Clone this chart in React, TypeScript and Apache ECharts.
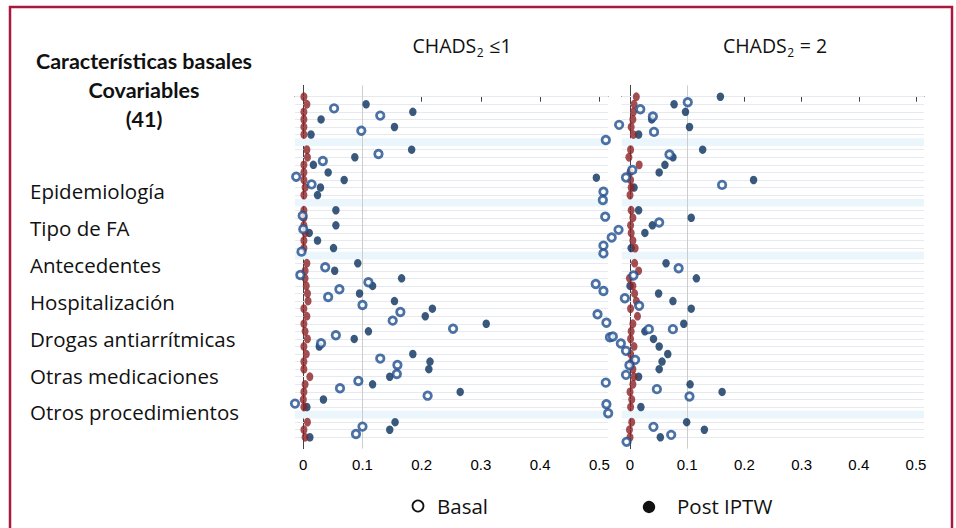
import React, { useEffect, useRef } from 'react';
import * as echarts from 'echarts';

// Row slots (top to bottom) that hold a covariate; the gaps are shaded bands
const ROW_SLOTS = [0, 1, 2, 3, 4, 5, 7, 8, 9, 10, 11, 12, 13, 15, 16, 17, 18, 19, 20,
  22, 23, 24, 25, 26, 27, 28, 29, 30, 31, 32, 33, 34, 35, 36, 37, 38, 39, 40, 41, 43, 44, 45];
const BAND_SLOTS = [6, 14, 21, 42];
const X_TICKS = [0, 0.1, 0.2, 0.3, 0.4, 0.5];

const GROUP_LABELS = ['Epidemiología', 'Tipo de FA', 'Antecedentes', 'Hospitalización',
  'Drogas antiarrítmicas', 'Otras medicaciones', 'Otros procedimientos'];
const HEADER_LINES = ['Características basales', 'Covariables', '(41)'];
const PANEL_TITLES = [['CHADS', '2', ' ≤1'], ['CHADS', '2', ' = 2']];
const LEGEND_ITEMS = ['Basal', 'Post IPTW'];

// Left panel (CHADS2 <= 1)
const LEFT_RED = [0.001, 0.006, 0.001, 0.001, 0.001, 0.001,
  0.006, 0.007, 0.001, 0.001, 0.001, 0.003, 0.001,
  0.001, 0.001, 0.001, 0.003, 0.001, 0.001,
  0.006, 0.003, 0.003, 0.005, 0.007, 0.008, 0.001, 0.006, 0.001, 0.003,
  0.007, 0.001, 0.005, 0.001, 0.001, 0.011, 0.003, 0.001, 0.000, 0.001,
  0.007, 0.001, 0.003];
const LEFT_NAVY = [[0.106, 1], [0.185, 2], [0.030, 3], [0.154, 4], [0.013, 5], [0.183, 7], [0.087, 8],
  [0.017, 9], [0.042, 10], [0.495, 10.7], [0.069, 11], [0.029, 12], [0.024, 13], [0.055, 15], [0.055, 17],
  [0.010, 18], [0.024, 19], [0.051, 20], [0.092, 22], [0.053, 23], [0.166, 24], [0.117, 25], [0.095, 26],
  [0.154, 27], [0.218, 28], [0.206, 29], [0.309, 30], [0.110, 31], [0.086, 32], [0.027, 33], [0.185, 34],
  [0.214, 35], [0.212, 36], [0.146, 37], [0.117, 38], [0.265, 39], [0.034, 40], [0.006, 41], [0.155, 43],
  [0.146, 44], [0.011, 45]];
const LEFT_OPEN = [[0.052, 1.54], [0.130, 2.5], [0.098, 4.49], [0.511, 5.72], [0.127, 7.57], [0.033, 8.5],
  [-0.012, 10.57], [0.014, 11.58], [0.507, 12.55], [0.506, 13.65], [-0.001, 15.72], [0.510, 15.85],
  [0.000, 17.5], [0.507, 19.68], [-0.003, 20.47], [0.507, 20.7], [0.037, 22.54], [-0.005, 23.55],
  [0.110, 24.52], [0.494, 24.74], [0.061, 25.44], [0.507, 25.67], [0.042, 26.46], [0.100, 27.52],
  [0.164, 28.44], [0.497, 28.75], [0.151, 29.59], [0.512, 29.86], [0.253, 30.65], [0.055, 31.52],
  [0.518, 31.78], [0.030, 32.58], [0.130, 34.6], [0.159, 35.44], [0.158, 36.63], [0.093, 37.56],
  [0.511, 37.78], [0.062, 38.52], [0.210, 39.5], [-0.014, 40.55], [0.512, 40.63], [0.515, 41.82],
  [0.100, 43.59], [0.089, 44.56]];

// Right panel (CHADS2 = 2)
const RIGHT_RED = [0.011, 0.007, 0.006, 0.005, 0.002, 0.006,
  0.001, -0.002, 0.016, 0.000, 0.001, 0.002, 0.000,
  0.002, 0.005, 0.001, 0.002, 0.005, 0.009,
  0.008, 0.015, -0.001, 0.005, 0.008, 0.011, 0.001, 0.013, 0.005, 0.002,
  0.001, 0.007, 0.001, 0.003, 0.005, 0.007, 0.005, 0.000, 0.003, 0.001,
  0.003, -0.001, 0.000];
const RIGHT_NAVY = [[0.158, 0], [0.077, 1], [0.097, 2], [0.038, 3], [0.104, 4], [0.015, 5], [0.127, 7],
  [0.075, 8], [0.061, 9], [0.051, 10], [0.216, 11], [0.007, 12], [0.015, 15], [0.107, 16], [0.039, 17],
  [0.026, 18], [0.002, 20], [0.063, 22], [0.116, 24], [0.000, 25], [0.050, 26], [0.075, 27], [0.107, 28],
  [0.094, 30], [0.026, 31], [0.041, 32], [0.051, 33], [0.066, 34], [0.056, 35], [0.051, 36], [0.015, 37],
  [0.105, 38], [0.161, 39], [0.019, 41], [0.099, 43], [0.130, 44], [0.053, 45]];
const RIGHT_OPEN = [[0.101, 0.73], [0.018, 1.65], [0.040, 2.62], [-0.019, 3.72], [0.042, 4.65],
  [0.069, 7.64], [0.004, 9.67], [-0.007, 10.68], [0.161, 11.65], [0.051, 16.62], [-0.020, 17.59],
  [-0.032, 18.6], [0.085, 22.66], [0.006, 23.62], [-0.009, 26.62], [0.016, 27.63], [0.033, 30.71],
  [0.075, 30.71], [-0.030, 31.68], [-0.016, 32.6], [-0.007, 33.58], [0.009, 34.77], [-0.001, 35.47],
  [-0.007, 36.75], [0.047, 38.64], [0.104, 39.6], [0.041, 43.62], [0.072, 44.68], [-0.006, 45.6]];

const RED = '#8c2226';
const NAVY = '#0a2f5c';
const OPEN = '#1f4f8e';
const TEXT_FONT = '"Open Sans", "Noto Sans", sans-serif';

function measure(text: string, font: string): number {
  const c = document.createElement('canvas').getContext('2d');
  if (!c) return text.length * 8;
  c.font = font;
  return c.measureText(text).width;
}

export default function App() {
  const ref = useRef<HTMLDivElement>(null);
  useEffect(() => {
    if (!ref.current) return;
    const chart = echarts.init(ref.current, null, { renderer: 'svg' });

    const top = 85.35;
    const height = 363.3;
    const panels = [
      { left: 295, width: 313, min: -0.014, max: 0.5147, red: LEFT_RED, navy: LEFT_NAVY, open: LEFT_OPEN },
      { left: 621.7, width: 302.3, min: -0.0145, max: 0.514, red: RIGHT_RED, navy: RIGHT_NAVY, open: RIGHT_OPEN },
    ];

    const grid = panels.map((p) => ({ left: p.left, top, width: p.width, height, containLabel: false }));
    const xAxis = panels.map((p, i) => ({
      type: 'value', gridIndex: i, min: p.min, max: p.max,
      axisLine: { show: true, lineStyle: { color: '#444', width: 1 } },
      axisTick: { show: true, customValues: X_TICKS, length: 5, lineStyle: { color: '#444' } },
      axisLabel: {
        show: true, customValues: X_TICKS, color: '#000', fontSize: 15, margin: 8,
        fontFamily: '"Liberation Sans Narrow", "Liberation Sans", Arial, sans-serif',
        formatter: (v: number) => (Math.abs(v) < 1e-9 ? '0' : String(Math.round(v * 10) / 10)),
      },
      splitLine: { show: false },
    }));
    const yAxis = panels.map((_, i) => ({
      type: 'value', gridIndex: i, inverse: true, min: -1.5, max: 46.5,
      axisLine: { show: true, lineStyle: { color: '#444', width: 1 } },
      axisTick: { show: true, customValues: ROW_SLOTS, length: 3, lineStyle: { color: '#333' } },
      axisLabel: { show: false },
      splitLine: { show: false },
    }));

    const series: any[] = [];
    panels.forEach((p, i) => {
      series.push({
        type: 'scatter', xAxisIndex: i, yAxisIndex: i, data: [], z: 1, silent: true,
        markArea: {
          silent: true, z: 1,
          itemStyle: { color: '#ebf6fc' },
          data: BAND_SLOTS.map((b) => [{ yAxis: b - 0.5 }, { yAxis: b + 0.5 }]),
        },
        markLine: {
          silent: true, z: 2, symbol: ['none', 'none'], label: { show: false },
          lineStyle: { color: '#e6eaf0', width: 1, type: 'solid' },
          data: [
            ...ROW_SLOTS.map((r) => ({ yAxis: r })),
            { xAxis: 0.1, lineStyle: { color: '#cdcdcd', width: 1, type: 'solid' } },
          ],
        },
      });
      series.push({
        type: 'scatter', xAxisIndex: i, yAxisIndex: i, z: 10, clip: false,
        symbol: 'circle', symbolSize: [7.5, 8.5],
        itemStyle: { color: NAVY },
        data: p.navy,
      });
      series.push({
        type: 'scatter', xAxisIndex: i, yAxisIndex: i, z: 11, clip: false,
        symbol: 'circle', symbolSize: [7, 8.8],
        itemStyle: { color: RED },
        data: p.red.map((v, k) => [v, ROW_SLOTS[k]]),
      });
      series.push({
        type: 'scatter', xAxisIndex: i, yAxisIndex: i, z: 12, clip: false,
        symbol: 'circle', symbolSize: 7.5,
        itemStyle: { color: '#ffffff', borderColor: OPEN, borderWidth: 2.8 },
        data: p.open,
      });
    });

    const graphic: any[] = [];
    graphic.push({
      type: 'rect', shape: { x: 10, y: 7, width: 942, height: 540 },
      style: { fill: 'none', stroke: '#a8183f', lineWidth: 2.5 }, silent: true,
    });
    HEADER_LINES.forEach((t, k) => {
      graphic.push({
        type: 'text', x: 144, y: 61 + k * 29,
        style: { text: t, fill: '#111', font: 'bold 21.5px Lato, "Open Sans", sans-serif', align: 'center', verticalAlign: 'middle' },
      });
    });
    GROUP_LABELS.forEach((t, k) => {
      graphic.push({
        type: 'text', x: 30, y: 191 + k * 36.9,
        style: { text: t, fill: '#111', font: '20.5px ' + TEXT_FONT, align: 'left', verticalAlign: 'middle' },
      });
    });
    const titleFont = '19.5px ' + TEXT_FONT;
    const subFont = '12px ' + TEXT_FONT;
    const centers = [462, 775];
    PANEL_TITLES.forEach((parts, k) => {
      const w0 = measure(parts[0], titleFont);
      const w1 = measure(parts[1], subFont) + 1;
      const w2 = measure(parts[2], titleFont);
      const x0 = centers[k] - (w0 + w1 + w2) / 2;
      const y = 45;
      graphic.push({ type: 'text', x: x0, y, style: { text: parts[0], fill: '#111', font: titleFont, align: 'left', verticalAlign: 'middle' } });
      graphic.push({ type: 'text', x: x0 + w0 + 0.5, y: y + 7, style: { text: parts[1], fill: '#111', font: subFont, align: 'left', verticalAlign: 'middle' } });
      graphic.push({ type: 'text', x: x0 + w0 + w1, y, style: { text: parts[2], fill: '#111', font: titleFont, align: 'left', verticalAlign: 'middle' } });
    });
    graphic.push({ type: 'circle', shape: { cx: 418, cy: 506, r: 5.5 }, style: { fill: '#fff', stroke: '#111', lineWidth: 1.8 } });
    graphic.push({ type: 'text', x: 437, y: 506, style: { text: LEGEND_ITEMS[0], fill: '#111', font: '20.5px ' + TEXT_FONT, align: 'left', verticalAlign: 'middle' } });
    graphic.push({ type: 'circle', shape: { cx: 649, cy: 507, r: 6.2 }, style: { fill: '#111' } });
    graphic.push({ type: 'text', x: 677, y: 506, style: { text: LEGEND_ITEMS[1], fill: '#111', font: '20.5px ' + TEXT_FONT, align: 'left', verticalAlign: 'middle' } });

    chart.setOption({
      animation: false,
      backgroundColor: '#ffffff',
      grid, xAxis, yAxis, series, graphic,
    } as any);
    return () => chart.dispose();
  }, []);
  return <div ref={ref} style={{ position: 'absolute', left: 0, top: 0, width: 956, height: 528 }} />;
}
